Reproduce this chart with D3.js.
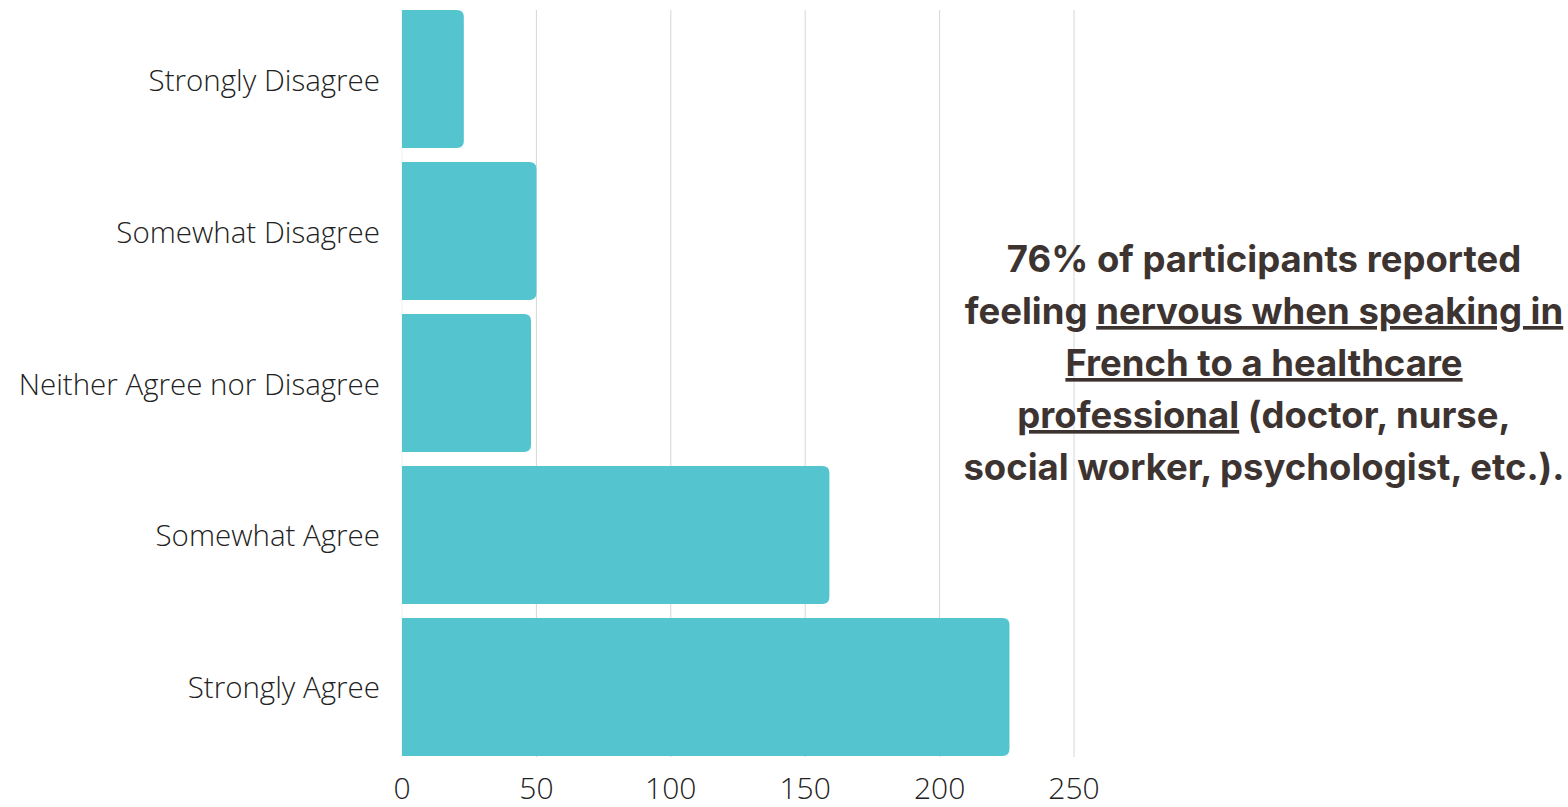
<!DOCTYPE html>
<html><head><meta charset="utf-8">
<script src="https://cdn.jsdelivr.net/npm/d3@7"></script>
<style>
html,body{margin:0;padding:0;background:#fff;}
svg{display:block;}
</style></head>
<body>
<svg id="chart" width="1568" height="807"></svg>
<script>
const categories = ["Strongly Disagree","Somewhat Disagree","Neither Agree nor Disagree","Somewhat Agree","Strongly Agree"];
const values = [23, 50, 48, 159, 226];
const tickValues = [0, 50, 100, 150, 200, 250];
const noteLines = [
  [{t:"76% of participants reported", u:false}],
  [{t:"feeling ", u:false},{t:"nervous when speaking in", u:true}],
  [{t:"French to a healthcare", u:true}],
  [{t:"professional", u:true},{t:" (doctor, nurse,", u:false}],
  [{t:"social worker, psychologist, etc.).", u:false}]
];

const svg = d3.select("#chart");
const x = d3.scaleLinear().domain([0,250]).range([402,1074]);
const y = d3.scaleBand().domain(categories).range([10,756]).paddingInner(0.092).paddingOuter(0);

// gridlines
svg.append("g").selectAll("line").data(tickValues).join("line")
  .attr("x1", d=>x(d)).attr("x2", d=>x(d))
  .attr("y1", 10).attr("y2", 757)
  .attr("stroke", d=> d===0 ? "#eef0f2" : "#d3d7dc").attr("stroke-width", 1);

// bars with right rounded corners
const r = 7;
svg.append("g").selectAll("path").data(categories).join("path")
  .attr("fill", "#54c5cf")
  .attr("d", (c,i)=>{
    const x0 = x(0), x1 = x(values[i]), y0 = y(c), h = y.bandwidth();
    return `M${x0},${y0}H${x1-r}Q${x1},${y0} ${x1},${y0+r}V${y0+h-r}Q${x1},${y0+h} ${x1-r},${y0+h}H${x0}Z`;
  });

// category labels
svg.append("g").selectAll("text").data(categories).join("text")
  .attr("x", 380).attr("y", c=>y(c)+y.bandwidth()/2)
  .attr("text-anchor","end").attr("dominant-baseline","central")
  .attr("font-family","'Open Sans', sans-serif").attr("font-weight",300)
  .attr("font-size",29.5).attr("fill","#222")
  .text(c=>c);

// x axis tick labels
svg.append("g").selectAll("text").data(tickValues).join("text")
  .attr("x", d=>x(d)).attr("y", 799)
  .attr("text-anchor","middle")
  .attr("font-family","'Open Sans', sans-serif").attr("font-weight",300)
  .attr("font-size",30).attr("fill","#222")
  .text(d=>d);

// annotation
const note = svg.append("g");
const noteY0 = 272, noteDY = 52, noteX = 1264;
noteLines.forEach((line,i)=>{
  const t = note.append("text")
    .attr("x", noteX).attr("y", noteY0 + i*noteDY)
    .attr("text-anchor","middle")
    .attr("font-family","Inter, 'Open Sans', sans-serif").attr("font-weight",700)
    .attr("font-size",36.5).attr("fill","#3d3431");
  line.forEach(seg=>{
    t.append("tspan").text(seg.t)
      .attr("text-decoration", seg.u ? "underline" : null);
  });
});
</script>
</body></html>
